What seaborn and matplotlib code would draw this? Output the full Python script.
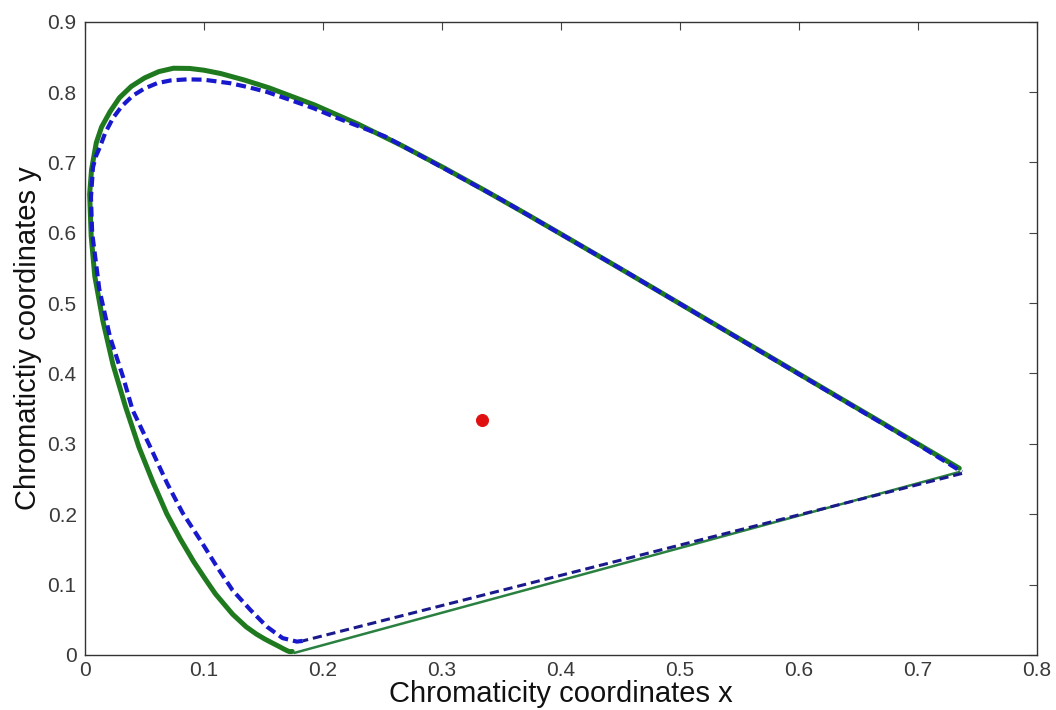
import matplotlib
matplotlib.use("Agg")
import matplotlib.pyplot as plt
import seaborn as sns

green_x = [0.1741, 0.1740, 0.1738, 0.1736, 0.1733, 0.1730, 0.1726, 0.1721, 0.1714, 0.1703,
           0.1689, 0.1669, 0.1644, 0.1611, 0.1566, 0.1510, 0.1440, 0.1355, 0.1241, 0.1096,
           0.1010, 0.0913, 0.0800, 0.0687, 0.0570, 0.0454, 0.0340, 0.0235, 0.0150, 0.0082,
           0.0052, 0.0039, 0.0055, 0.0095, 0.0139, 0.0210, 0.0290, 0.0389, 0.0500, 0.0620,
           0.0743, 0.0880, 0.1000, 0.1142, 0.1340,
           0.1547, 0.1929, 0.2296, 0.2658, 0.3016, 0.3373, 0.3731, 0.4087, 0.4441, 0.4788,
           0.5125, 0.5448, 0.5752, 0.6029, 0.6270, 0.6482, 0.6658, 0.6801, 0.6915, 0.7006,
           0.7079, 0.7140, 0.7190, 0.7230, 0.7260, 0.7283, 0.7300, 0.7311, 0.7320, 0.7327,
           0.7334, 0.7340, 0.7344, 0.7346, 0.7347]
green_y = [0.0050, 0.0050, 0.0049, 0.0049, 0.0048, 0.0048, 0.0048, 0.0048, 0.0051, 0.0058,
           0.0069, 0.0086, 0.0109, 0.0138, 0.0177, 0.0227, 0.0297, 0.0399, 0.0578, 0.0868,
           0.1080, 0.1327, 0.1650, 0.2007, 0.2460, 0.2950, 0.3530, 0.4127, 0.4750, 0.5384,
           0.5950, 0.6548, 0.6900, 0.7280, 0.7502, 0.7720, 0.7920, 0.8080, 0.8200, 0.8290,
           0.8338, 0.8335, 0.8310, 0.8262, 0.8170,
           0.8059, 0.7816, 0.7543, 0.7243, 0.6923, 0.6589, 0.6245, 0.5896, 0.5547, 0.5202,
           0.4866, 0.4544, 0.4242, 0.3965, 0.3725, 0.3514, 0.3340, 0.3197, 0.3083, 0.2993,
           0.2920, 0.2859, 0.2809, 0.2770, 0.2740, 0.2717, 0.2700, 0.2689, 0.2680, 0.2673,
           0.2666, 0.2660, 0.2656, 0.2654, 0.2653]
green_close_x = [0.7347, 0.1760]
green_close_y = [0.2600, 0.0030]

# Blue dashed: second locus
blue_x = [0.183, 0.178, 0.166, 0.153, 0.139, 0.124, 0.111, 0.097, 0.082, 0.069, 0.055,
          0.040, 0.032, 0.021, 0.012, 0.006, 0.005, 0.0067, 0.009, 0.0126, 0.017, 0.0235,
          0.031, 0.0403, 0.050, 0.0605, 0.072, 0.0857, 0.100, 0.122, 0.137, 0.153, 0.172,
          0.192, 0.212, 0.252, 0.300, 0.350, 0.400, 0.450, 0.500, 0.550, 0.600, 0.650,
          0.700, 0.737]
blue_y = [0.020, 0.019, 0.024, 0.040, 0.064, 0.092, 0.125, 0.163, 0.202, 0.244, 0.295,
          0.348, 0.395, 0.452, 0.520, 0.600, 0.650, 0.693, 0.708, 0.722, 0.742, 0.763,
          0.780, 0.795, 0.805, 0.8125, 0.8165, 0.818, 0.8175, 0.8125, 0.807, 0.800, 0.789,
          0.777, 0.763, 0.737, 0.693, 0.647, 0.598, 0.549, 0.499, 0.449, 0.399, 0.349,
          0.299, 0.260]
blue_close_x = [0.737, 0.183]
blue_close_y = [0.258, 0.020]

white_x = [0.3333]
white_y = [0.3333]

x_ticks = [0, 0.1, 0.2, 0.3, 0.4, 0.5, 0.6, 0.7, 0.8]
y_ticks = [0, 0.1, 0.2, 0.3, 0.4, 0.5, 0.6, 0.7, 0.8, 0.9]

sns.set_style("white")
plt.rcParams['font.family'] = ['Liberation Sans', 'DejaVu Sans']

fig = plt.figure(figsize=(10.56, 7.10), dpi=100)
ax = fig.add_axes([0.0805, 0.0775, 0.9015, 0.892])

green = "#1f7a1f"
blue = "#1818cc"

sns.lineplot(x=green_x, y=green_y, sort=False, estimator=None, ax=ax,
             color=green, linewidth=3.6, solid_capstyle="round", solid_joinstyle="round")
sns.lineplot(x=green_close_x, y=green_close_y, sort=False, estimator=None, ax=ax,
             color="#2a8040", linewidth=1.8)
sns.lineplot(x=blue_close_x, y=blue_close_y, sort=False, estimator=None, ax=ax,
             color="#1a1a8c", linewidth=2.2, linestyle=(0, (3.0, 1.6)))
sns.lineplot(x=blue_x, y=blue_y, sort=False, estimator=None, ax=ax,
             color=blue, linewidth=3.0, linestyle=(0, (2.4, 1.2)))
sns.scatterplot(x=white_x, y=white_y, ax=ax, color="#e01010", s=75,
                edgecolor="#e01010", zorder=5)

ax.set_xlim(0, 0.8)
ax.set_ylim(0, 0.9)
ax.set_xticks(x_ticks)
ax.set_yticks(y_ticks)
ax.set_xticklabels([f"{t:g}" for t in x_ticks])
ax.set_yticklabels([f"{t:g}" for t in y_ticks])
ax.tick_params(direction="in", length=6, width=0.8, top=True, right=True,
               labelsize=15, labelcolor="#3a3a3a", color="#444444")
ax.tick_params(axis="x", pad=4)
ax.tick_params(axis="y", pad=6)
for s in ax.spines.values():
    s.set_color("#333333")
    s.set_linewidth(1.0)

ax.set_xlabel("Chromaticity coordinates x", fontsize=21, color="#111111", labelpad=0)
ax.set_ylabel("Chromatictiy coordinates y", fontsize=21, color="#111111", labelpad=4)

fig.savefig("out.png", dpi=100)
